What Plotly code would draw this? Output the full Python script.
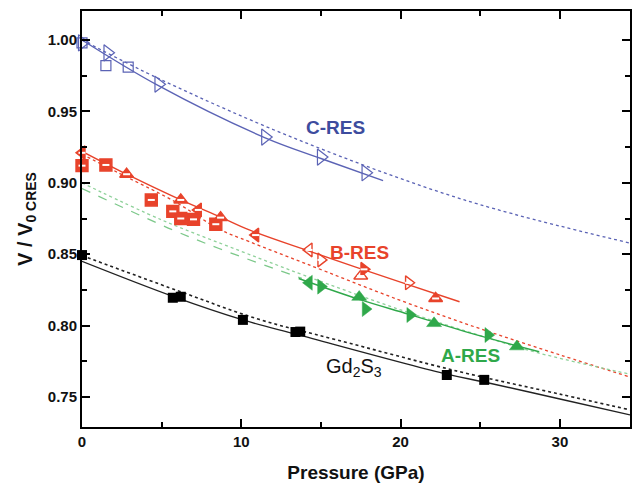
import plotly.graph_objects as go

# ---- C-RES ----
c_tri_x = [0.0, 1.6, 4.8, 11.5, 15.0, 17.8]
c_tri_y = [0.998, 0.991, 0.969, 0.932, 0.918, 0.907]
c_sq_x = [0.0, 1.5, 2.9]
c_sq_y = [0.998, 0.982, 0.981]
c_fit_x = [0.0, 4.8, 11.5, 15.0, 18.9]
c_fit_y = [1.000, 0.968, 0.9315, 0.917, 0.9015]
c_eos_x = [0.0, 5.0, 13.6, 24.0, 34.4]
c_eos_y = [1.000, 0.972, 0.930, 0.888, 0.8578]

# ---- B-RES ----
b_x = [0.0, 0.0, 1.5, 2.8, 4.35, 5.7, 6.2, 6.2, 7.0, 7.3, 8.4, 8.7, 10.9,
       14.25, 15.0, 17.7, 17.5, 20.5, 22.2]
b_y = [0.921, 0.912, 0.9125, 0.906, 0.888, 0.880, 0.888, 0.875, 0.8744, 0.881,
       0.871, 0.8756, 0.8634, 0.853, 0.846, 0.8394, 0.8347, 0.830, 0.819]
b_sym = ["triangle-left", "square", "square", "triangle-up", "square", "square",
         "triangle-up", "square", "square", "triangle-left", "square", "triangle-up",
         "triangle-left", "triangle-left-open", "triangle-right-open", "triangle-right",
         "triangle-up-open", "triangle-right-open", "triangle-up"]
b_fit_x = [0.0, 2.8, 6.2, 8.7, 10.5, 14.3, 19.9, 23.7]
b_fit_y = [0.922, 0.906, 0.888, 0.876, 0.867, 0.852, 0.8308, 0.8167]
b_eos_x = [0.0, 2.9, 5.8, 8.6, 10.5, 14.0, 19.9, 25.0, 30.0, 34.4]
b_eos_y = [0.920, 0.9035, 0.887, 0.8676, 0.8588, 0.8436, 0.818, 0.7978, 0.7795, 0.764]

# ---- A-RES ----
a_x = [14.25, 15.0, 17.4, 17.8, 20.6, 22.1, 25.5, 27.3]
a_y = [0.830, 0.8273, 0.820, 0.8116, 0.8074, 0.8016, 0.7934, 0.7853]
a_sym = ["triangle-left", "triangle-right", "triangle-up", "triangle-right",
         "triangle-right", "triangle-up", "triangle-right", "triangle-up"]
a_fit_x = [13.6, 17.5, 20.5, 24.0, 28.7]
a_fit_y = [0.833, 0.818, 0.808, 0.796, 0.7817]
a_eos_x = [0.0, 5.0, 10.0, 14.0, 20.0, 25.0, 28.6, 34.4]
a_eos_y = [0.900, 0.874, 0.852, 0.835, 0.811, 0.793, 0.781, 0.766]
a_dash_x = [0.0, 5.7, 8.6, 13.8]
a_dash_y = [0.896, 0.867, 0.854, 0.833]

# ---- Gd2S3 ----
g_x = [0.0, 5.7, 6.2, 10.1, 13.4, 13.7, 22.9, 25.25]
g_y = [0.8494, 0.8195, 0.8202, 0.804, 0.7955, 0.7958, 0.7654, 0.762]
g_fit_x = [0.0, 5.7, 10.1, 13.6, 22.9, 25.25, 30.0, 34.4]
g_fit_y = [0.845, 0.8205, 0.804, 0.7935, 0.766, 0.7605, 0.7486, 0.7375]
g_eos_x = [0.0, 6.0, 11.1, 16.0, 23.6, 30.0, 34.4]
g_eos_y = [0.849, 0.8245, 0.8044, 0.790, 0.768, 0.752, 0.741]

BLUE = "#5b63b5"
BLUE_TXT = "#3d4c9e"
RED = "#e8432b"
GREEN = "#2fa84a"
BLACK = "#111111"

fig = go.Figure()


def line(x, y, color, dash, width=1.5):
    fig.add_trace(go.Scatter(x=x, y=y, mode="lines", line_shape="spline",
                             line=dict(color=color, dash=dash, width=width),
                             hoverinfo="skip", showlegend=False))


def points(x, y, **marker):
    fig.add_trace(go.Scatter(x=x, y=y, mode="markers", showlegend=False,
                             cliponaxis=False, marker=marker))


# fitted curves
line(c_eos_x, c_eos_y, BLUE, "dot", 1.3)
line(c_fit_x, c_fit_y, BLUE, "solid", 1.4)
line(b_eos_x, b_eos_y, RED, "dot", 1.3)
line(b_fit_x, b_fit_y, RED, "solid", 1.4)
line(a_eos_x, a_eos_y, "#8fd19a", "dot", 1.3)
line(a_dash_x, a_dash_y, "#7cc88a", "dash", 1.3)
line(a_fit_x, a_fit_y, GREEN, "solid", 1.4)
line(g_eos_x, g_eos_y, "#222222", "dot", 1.6)
line(g_fit_x, g_fit_y, "#222222", "solid", 1.4)

# C-RES points
points(c_sq_x, c_sq_y, symbol="square-open", size=10, color=BLUE,
       line=dict(color=BLUE, width=1.2))
points(c_tri_x, c_tri_y, symbol="triangle-right-open", size=14, color=BLUE,
       line=dict(color=BLUE, width=1.2))

# B-RES points (half-filled look: red body with a white band)
points(b_x, b_y, symbol=b_sym, size=12, color=RED, line=dict(color=RED, width=1.4))
points(b_x, b_y, symbol="line-ew", size=5, line=dict(color="white", width=2))

# A-RES points
points(a_x, a_y, symbol=a_sym, size=13, color=GREEN, line=dict(color=GREEN, width=0.5))

# Gd2S3 points
points(g_x, g_y, symbol="square", size=10, color="black")

FONT = "Liberation Sans, Arial, sans-serif"
labels = [
    ("C-RES", 15.9, 0.9384, BLUE_TXT, "bold"),
    ("B-RES", 17.4, 0.8515, RED, "bold"),
    ("A-RES", 24.4, 0.7794, GREEN, "bold"),
    ("Gd<sub>2</sub>S<sub>3</sub>", 17.1, 0.7705, BLACK, "normal"),
]
for txt, x, y, col, wt in labels:
    fig.add_annotation(x=x, y=y, text=txt, showarrow=False,
                       font=dict(family=FONT, size=20 if wt == "normal" else 19,
                                 color=col, weight=wt))

axis_common = dict(showline=True, linecolor="black", linewidth=2, mirror="allticks",
                   ticks="inside", ticklen=8, tickwidth=2, tickcolor="black",
                   showgrid=False, zeroline=False,
                   tickfont=dict(family=FONT, size=15, color="#111111", weight="bold"))

fig.update_xaxes(range=[0, 34.4], dtick=10, tick0=0,
                 minor=dict(dtick=5, ticks="inside", ticklen=5, tickwidth=1.5,
                            tickcolor="black", showgrid=False),
                 title=dict(text="Pressure (GPa)", standoff=17,
                            font=dict(family=FONT, size=19, color="#111111",
                                      weight="bold")),
                 **axis_common)
fig.update_yaxes(range=[0.729, 1.0203], dtick=0.05, tick0=0.75, tickformat=".2f",
                 minor=dict(dtick=0.025, ticks="inside", ticklen=5, tickwidth=1.5,
                            tickcolor="black", showgrid=False),
                 title=dict(text="V / V<sub>0 CRES</sub>", standoff=10,
                            font=dict(family=FONT, size=20, color="#111111",
                                      weight="bold")),
                 **axis_common)

fig.update_layout(width=635, height=485, margin=dict(l=82, r=3, t=11, b=58),
                  paper_bgcolor="white", plot_bgcolor="white")

fig.write_html("out.html")
